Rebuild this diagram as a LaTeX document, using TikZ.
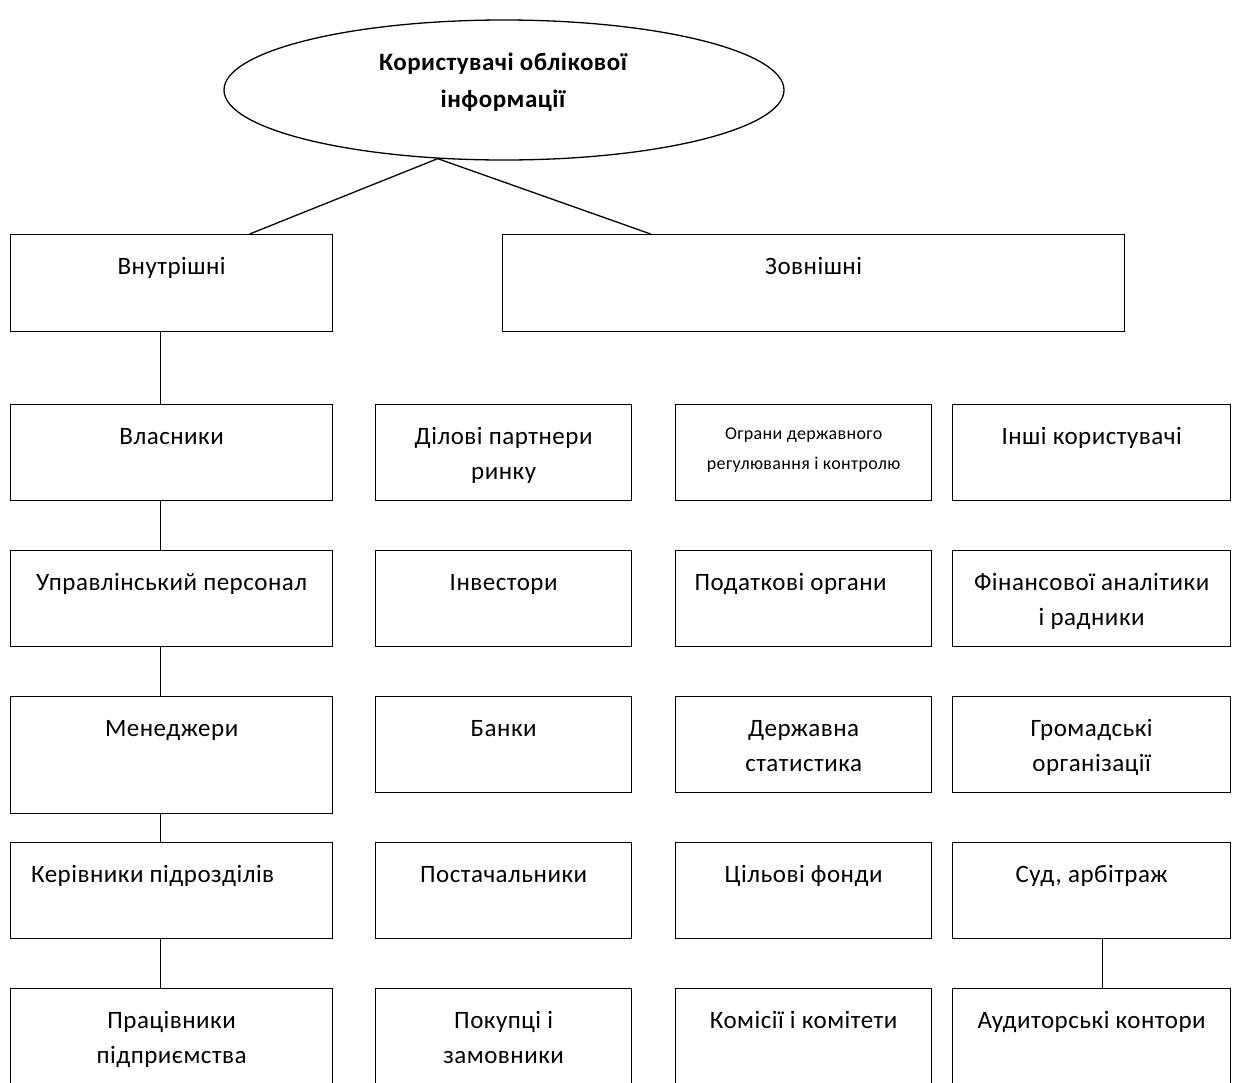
\documentclass[tikz,border=0pt]{standalone}
\usepackage{fontspec}
\setmainfont{Carlito}[LetterSpace=2]
\usetikzlibrary{shapes.geometric,calc}
\newcommand\boxtext[4]{\parbox[t][#2pt][t]{#1pt}{\centering\rule{0pt}{#3pt}#4}}
\newcommand\ubx[6]{\node[ubox] (#1) at (#2,#3) {\boxtext{#4}{#5}{40}{#6}};}
\begin{document}
\begin{tikzpicture}[x=1pt,y=-1pt,
  ubox/.style={draw, line width=1.3pt, inner sep=0pt, anchor=north west,
    font=\fontsize{25}{35}\selectfont},
  smallbox/.style={ubox, font=\fontsize{18}{30}\selectfont},
  link/.style={line width=1.3pt}]
\useasboundingbox (0,0) rectangle (1252,1082);
\fill[white] (0,0) rectangle (1252,1082);

% top ellipse
\node[draw, ellipse, line width=1.3pt, minimum width=560pt, minimum height=140pt, inner sep=0pt] (ell) at (504,90) {};
\node[font=\bfseries\fontsize{25}{37}\selectfont, align=center] (ttl) at (503,82) {Користувачі облікової\\інформації};

% level 1
\ubx{vn}{10}{234}{322}{97}{Внутрішні}
\ubx{zv}{502}{234}{622}{97}{Зовнішні}

% column 1
\ubx{a1}{10}{404}{322}{96}{Власники}
\ubx{a2}{10}{550}{322}{96}{Управлінський персонал}
\ubx{a3}{10}{696}{322}{117}{Менеджери}
\ubx{a4}{10}{842}{322}{96}{\hspace*{-38pt}Керівники підрозділів}
\ubx{a5}{10}{988}{322}{130}{Працівники\\підприємства}

% column 2
\ubx{b1}{375}{404}{256}{96}{Ділові партнери\\ринку}
\ubx{b2}{375}{550}{256}{96}{Інвестори}
\ubx{b3}{375}{696}{256}{96}{Банки}
\ubx{b4}{375}{842}{256}{96}{Постачальники}
\ubx{b5}{375}{988}{256}{130}{Покупці і\\замовники}

% column 3
\node[smallbox] (c1) at (675,404) {\boxtext{256}{96}{35}{Ограни державного\\регулювання і контролю}};
\ubx{c2}{675}{550}{256}{96}{\hspace*{-26pt}Податкові органи}
\ubx{c3}{675}{696}{256}{96}{Державна\\статистика}
\ubx{c4}{675}{842}{256}{96}{Цільові фонди}
\ubx{c5}{675}{988}{256}{130}{Комісії і комітети}

% column 4
\ubx{d1}{952}{404}{278}{96}{Інші користувачі}
\ubx{d2}{952}{550}{278}{96}{Фінансової аналітики\\і радники}
\ubx{d3}{952}{696}{278}{96}{Громадські\\організації}
\ubx{d4}{952}{842}{278}{96}{Суд, арбітраж}
\ubx{d5}{952}{988}{278}{130}{Аудиторські контори}

% connectors
\draw[link] (ell.226) -- ([xshift=78pt]vn.north);
\draw[link] (ell.226) -- ([xshift=-163pt]zv.north);
\draw[link] ([xshift=-11pt]vn.south) -- ([xshift=-11pt]a1.north);
\draw[link] ([xshift=-11pt]a1.south) -- ([xshift=-11pt]a2.north);
\draw[link] ([xshift=-11pt]a2.south) -- ([xshift=-11pt]a3.north);
\draw[link] ([xshift=-11pt]a3.south) -- ([xshift=-11pt]a4.north);
\draw[link] ([xshift=-11pt]a4.south) -- ([xshift=-11pt]a5.north);
\draw[link] ([xshift=11pt]d4.south) -- ([xshift=11pt]d5.north);
\end{tikzpicture}
\end{document}
